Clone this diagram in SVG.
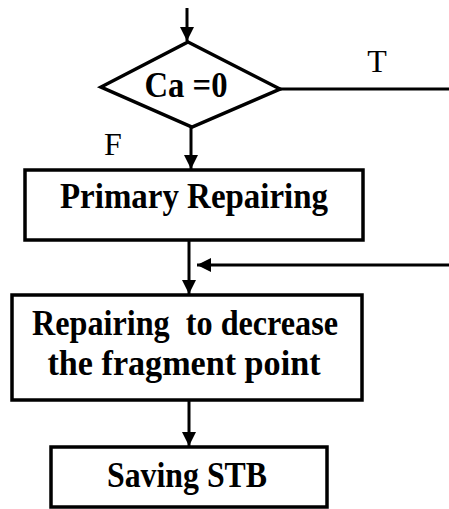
<svg xmlns="http://www.w3.org/2000/svg" width="449" height="509" viewBox="0 0 449 509">
<style>
.shape{fill:#fff;stroke:#000;stroke-width:3.5}
.edge{fill:none;stroke:#000;stroke-width:3}
.lbl{font-family:"Liberation Serif","Times New Roman",serif;font-weight:bold;font-size:35px;text-anchor:middle;fill:#000}
.tf{font-family:"Liberation Serif","Times New Roman",serif;font-size:32px;text-anchor:middle;fill:#000}
</style>
<defs>
<marker id="ah2" viewBox="0 0 12 12" refX="12" refY="6" markerWidth="14" markerHeight="14" markerUnits="userSpaceOnUse" orient="auto">
<path d="M0,0 L12,6 L0,12 z" fill="#000"/>
</marker>
</defs>
<g id="connectors">
<line class="edge" x1="187" y1="8" x2="187" y2="41" marker-end="url(#ah2)"/>
<line class="edge" x1="280" y1="89" x2="449" y2="89"/>
<line class="edge" x1="191" y1="127" x2="191" y2="169" marker-end="url(#ah2)"/>
<line class="edge" x1="189" y1="241" x2="189" y2="294" marker-end="url(#ah2)"/>
<line class="edge" x1="449" y1="265" x2="197" y2="265" marker-end="url(#ah2)"/>
<line class="edge" x1="189" y1="401" x2="189" y2="446" marker-end="url(#ah2)"/>
<text class="tf" x="377" y="72">T</text>
<text class="tf" x="113" y="155">F</text>
</g>
<g id="decision">
<polygon class="shape" points="188,42 280,89 192,127 101,87"/>
<text class="lbl" x="186" y="97" textLength="83" lengthAdjust="spacingAndGlyphs">Ca =0</text>
</g>
<g id="primary">
<rect class="shape" x="25" y="170" width="338" height="70"/>
<text class="lbl" x="194" y="208" textLength="268" lengthAdjust="spacingAndGlyphs">Primary Repairing</text>
</g>
<g id="repairing">
<rect class="shape" x="12" y="295" width="350" height="105"/>
<text class="lbl" x="185" y="335" xml:space="preserve" textLength="306" lengthAdjust="spacingAndGlyphs">Repairing  to decrease</text>
<text class="lbl" x="184" y="375" textLength="273" lengthAdjust="spacingAndGlyphs">the fragment point</text>
</g>
<g id="saving">
<rect class="shape" x="51" y="447" width="276" height="60"/>
<text class="lbl" x="187" y="487" textLength="160" lengthAdjust="spacingAndGlyphs">Saving STB</text>
</g>
</svg>
